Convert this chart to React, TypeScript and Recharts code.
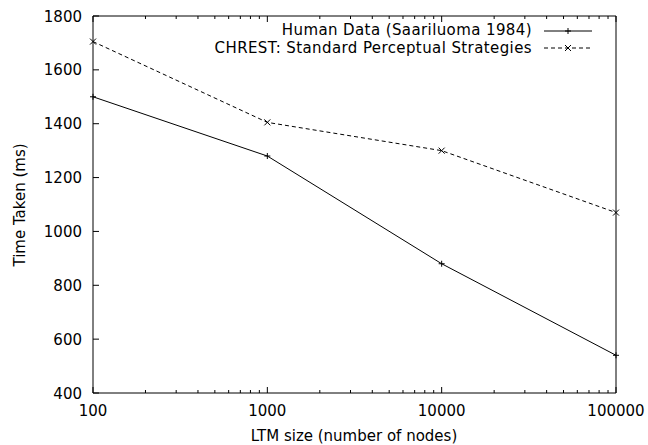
import { LineChart, Line, XAxis, YAxis, Legend } from "recharts";

const sizes = [100, 1000, 10000, 100000];
const humanTimes = [1500, 1280, 880, 540];
const chrestTimes = [1705, 1405, 1300, 1070];

const xTicks = [
  100, 200, 300, 400, 500, 600, 700, 800, 900,
  1000, 2000, 3000, 4000, 5000, 6000, 7000, 8000, 9000,
  10000, 20000, 30000, 40000, 50000, 60000, 70000, 80000, 90000,
  100000,
];
const yTicks = [400, 600, 800, 1000, 1200, 1400, 1600, 1800];

const seriesNames = [
  "Human Data (Saariluoma 1984)",
  "CHREST: Standard Perceptual Strategies",
];

const data = sizes.map((s, i) => ({
  size: s,
  human: humanTimes[i],
  chrest: chrestTimes[i],
}));

const FONT = "'DejaVu Sans', sans-serif";
const isMajor = (v: number) => Math.abs(Math.log10(v) - Math.round(Math.log10(v))) < 1e-9;

const BottomTick = ({ x, y, payload }: any) => {
  const major = isMajor(payload.value);
  return (
    <g>
      <line x1={x} x2={x} y1={y} y2={y - (major ? 6 : 3)} stroke="#000" />
      {major && (
        <text x={x} y={y + 23} textAnchor="middle" fontSize={15} fontFamily={FONT} fill="#000">
          {payload.value}
        </text>
      )}
    </g>
  );
};

const TopTick = ({ x, y, payload }: any) => {
  const major = isMajor(payload.value);
  return <line x1={x} x2={x} y1={y} y2={y + (major ? 6 : 3)} stroke="#000" />;
};

const LeftTick = ({ x, y, payload }: any) => (
  <g>
    <line x1={x} x2={x + 6} y1={y} y2={y} stroke="#000" />
    <text x={x - 11} y={y + 5.5} textAnchor="end" fontSize={15} fontFamily={FONT} fill="#000">
      {payload.value}
    </text>
  </g>
);

const RightTick = ({ x, y }: any) => <line x1={x} x2={x - 6} y1={y} y2={y} stroke="#000" />;

const Plus = ({ cx, cy }: any) => (
  <path d={`M${cx - 3},${cy}H${cx + 3}M${cx},${cy - 3}V${cy + 3}`} stroke="#000" fill="none" />
);
const Cross = ({ cx, cy }: any) => (
  <path
    d={`M${cx - 3},${cy - 3}L${cx + 3},${cy + 3}M${cx - 3},${cy + 3}L${cx + 3},${cy - 3}`}
    stroke="#000"
    fill="none"
  />
);

const LegendBox = () => (
  <div style={{ fontFamily: FONT, fontSize: 15, letterSpacing: 0.4, color: "#000", margin: 0, padding: 0 }}>
    {seriesNames.map((name, i) => (
      <div
        key={name}
        style={{
          display: "flex",
          alignItems: "center",
          justifyContent: "flex-end",
          height: 17.5,
          lineHeight: "17.5px",
        }}
      >
        <span style={{ whiteSpace: "nowrap" }}>{name}</span>
        <svg width={48} height={10} style={{ marginLeft: 12, display: "block" }}>
          <line x1={0} x2={48} y1={5} y2={5} stroke="#000" strokeDasharray={i ? "4 3" : undefined} />
          {i ? <Cross cx={24} cy={5} /> : <Plus cx={24} cy={5} />}
        </svg>
      </div>
    ))}
  </div>
);

export default function App() {
  return (
    <div style={{ position: "absolute", left: 0, top: 0, background: "#fff" }}>
      <LineChart width={648} height={445} data={data} margin={{ top: 15, right: 31, left: 0, bottom: 0 }}>
        <XAxis
          dataKey="size"
          type="number"
          scale="log"
          domain={[100, 100000]}
          ticks={xTicks}
          interval={0}
          height={52}
          tickSize={0}
          tickMargin={0}
          tick={<BottomTick />}
          axisLine={{ stroke: "#000" }}
          tickLine={false}
          label={{
            content: () => (
              <text x={354} y={441} textAnchor="middle" fontSize={15} fontFamily={FONT} fill="#000">
                LTM size (number of nodes)
              </text>
            ),
          }}
        />
        <XAxis
          xAxisId="top"
          orientation="top"
          dataKey="size"
          type="number"
          scale="log"
          domain={[100, 100000]}
          ticks={xTicks}
          interval={0}
          height={1}
          tickSize={0}
          tickMargin={0}
          tick={<TopTick />}
          axisLine={{ stroke: "#000" }}
          tickLine={false}
        />
        <YAxis
          type="number"
          domain={[400, 1800]}
          ticks={yTicks}
          interval={0}
          width={93}
          tickSize={0}
          tickMargin={0}
          tick={<LeftTick />}
          axisLine={{ stroke: "#000" }}
          tickLine={false}
          label={{
            content: () => (
              <text
                x={25}
                y={205}
                transform="rotate(-90, 25, 205)"
                textAnchor="middle"
                fontSize={15}
                fontFamily={FONT}
                fill="#000"
              >
                Time Taken (ms)
              </text>
            ),
          }}
        />
        <YAxis
          yAxisId="right"
          orientation="right"
          type="number"
          domain={[400, 1800]}
          ticks={yTicks}
          interval={0}
          width={1}
          tickSize={0}
          tickMargin={0}
          tick={<RightTick />}
          axisLine={{ stroke: "#000" }}
          tickLine={false}
        />
        <Legend
          layout="horizontal"
          verticalAlign="middle"
          align="center"
          content={<LegendBox />}
          wrapperStyle={{ position: "absolute", top: 22, right: 56, left: "auto", bottom: "auto", width: "auto", margin: 0 }}
        />
        <Line
          dataKey="human"
          name={seriesNames[0]}
          stroke="#000"
          strokeWidth={1}
          dot={<Plus />}
          activeDot={false}
          isAnimationActive={false}
        />
        <Line
          dataKey="chrest"
          name={seriesNames[1]}
          stroke="#000"
          strokeWidth={1}
          strokeDasharray="4 3"
          dot={<Cross />}
          activeDot={false}
          isAnimationActive={false}
        />
      </LineChart>
    </div>
  );
}
